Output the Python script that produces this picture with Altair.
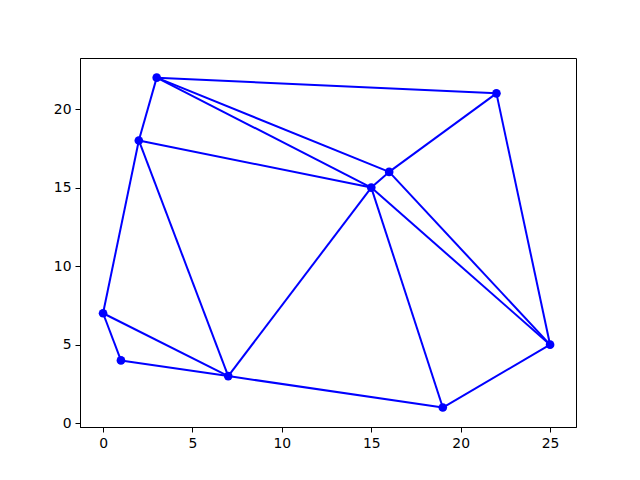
import altair as alt
import pandas as pd

px = [0, 1, 2, 3, 7, 15, 16, 19, 22, 25]
py = [7, 4, 18, 22, 3, 15, 16, 1, 21, 5]

# edges as index pairs into the point lists
e_from = [0, 1, 0, 0, 2, 2, 2, 3, 3, 3, 8, 8, 6, 6, 5, 5, 5, 4, 7]
e_to   = [1, 4, 4, 2, 3, 4, 5, 5, 6, 8, 6, 9, 5, 9, 9, 4, 7, 7, 9]

pts = pd.DataFrame({"x": px, "y": py})
edges = pd.DataFrame({
    "x": [px[a] for a in e_from], "y": [py[a] for a in e_from],
    "x2": [px[b] for b in e_to], "y2": [py[b] for b in e_to],
})

xs = alt.Scale(domain=[-1.29, 26.45], nice=False, zero=False)
ys = alt.Scale(domain=[-0.24, 23.25], nice=False, zero=False)
xax = alt.Axis(values=[0, 5, 10, 15, 20, 25], title=None, grid=False, format="d")
yax = alt.Axis(values=[0, 5, 10, 15, 20], title=None, grid=False, format="d")

lines = alt.Chart(edges).mark_rule(color="#0000ff", strokeWidth=2).encode(
    x=alt.X("x:Q", scale=xs, axis=xax), y=alt.Y("y:Q", scale=ys, axis=yax),
    x2="x2:Q", y2="y2:Q")
dots = alt.Chart(pts).mark_circle(color="#0000ff", size=75, opacity=1).encode(
    x=alt.X("x:Q", scale=xs), y=alt.Y("y:Q", scale=ys))

chart = alt.layer(lines, dots).properties(
    width=496, height=369,
    background="white",
    autosize=alt.AutoSizeParams(type="none"),
    padding={"left": 72, "top": 50, "right": 56, "bottom": 45},
).configure_view(stroke="black", strokeWidth=1).configure_axis(
    domainColor="black", tickColor="black", tickSize=5, labelFont="DejaVu Sans",
    labelFontSize=13.9, labelColor="black", labelPadding=4, domain=True
)

chart.save("out.html", embed_options={"renderer": "svg", "actions": False})
